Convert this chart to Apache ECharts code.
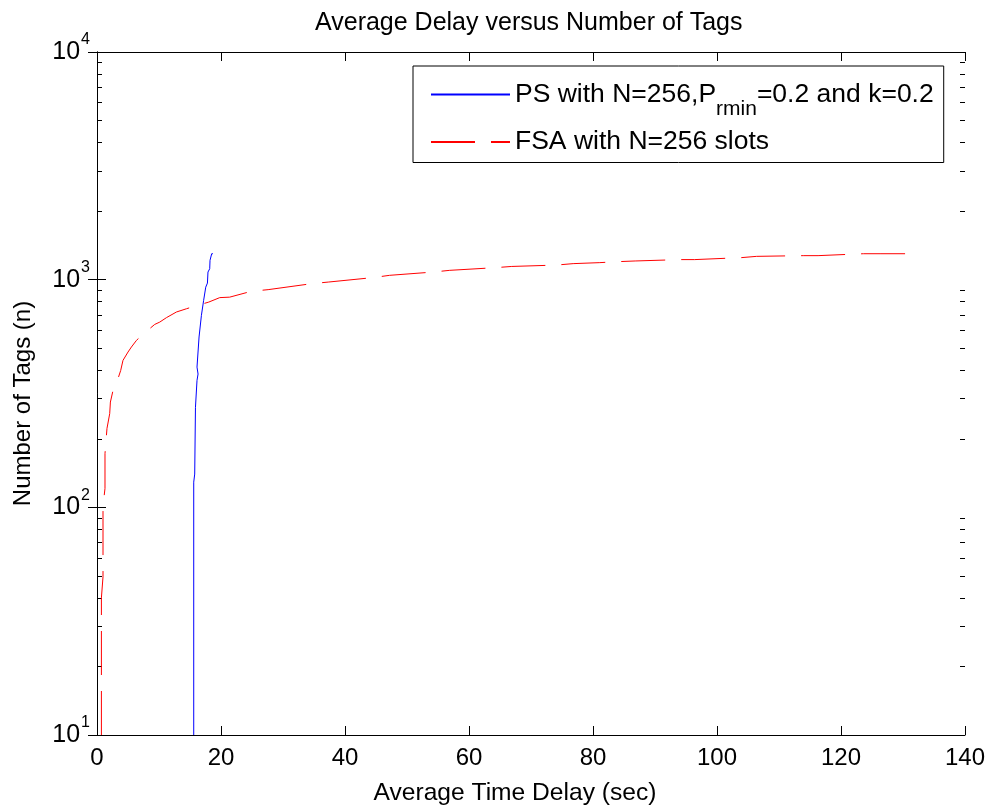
<!DOCTYPE html>
<html>
<head>
<meta charset="utf-8">
<script src="https://cdn.jsdelivr.net/npm/echarts@6/dist/echarts.min.js"></script>
<style>
  html, body { margin: 0; padding: 0; background: #fff; }
  #chart { width: 992px; height: 805px; }
</style>
</head>
<body>
<div id="chart"></div>
<script>
// ---- data ----
var titleText = 'Average Delay versus Number of Tags';
var xName = 'Average Time Delay (sec)';
var yName = 'Number of Tags (n)';
var xTicks = [0, 20, 40, 60, 80, 100, 120, 140];
var yDecades = [10, 100, 1000, 10000];
var yMinor = [20, 30, 40, 50, 60, 70, 80, 90, 200, 300, 400, 500, 600, 700, 800, 900, 2000, 3000, 4000, 5000, 6000, 7000, 8000, 9000];

var psName = 'PS with N=256,Prmin=0.2 and k=0.2';
var psX = [15.6, 15.6, 15.76, 15.88, 16.13, 16.13, 16.3, 16.13, 16.46, 16.73, 16.84, 17.1, 17.2, 17.49, 17.54, 17.81, 17.9, 18.18, 18.23, 18.5, 18.7];
var psY = [10, 129, 140, 275, 280, 361, 385, 413, 560, 569, 697, 703, 811, 825, 927, 966, 1080, 1117, 1216, 1300, 1300];

var fsaName = 'FSA with N=256 slots';
var fsaX = [0.71, 0.71, 0.97, 0.97, 1.29, 1.29, 1.61, 2.05, 2.16, 2.42, 2.58, 3.02, 3.82, 4.19, 5.0, 5.55, 6.36, 7.33, 9.31, 10.12, 11.2, 12.81, 14.42, 15.65, 18.02, 19.8, 21.4, 24.9, 27.6, 34.6, 37.3, 44.5, 47.2, 54.2, 56.9, 64.2, 66.9, 74.1, 76.8, 81.1, 84.1, 86.8, 94.0, 96.4, 104.0, 106.4, 113.9, 116.3, 123.6, 126.3, 131.9];
var fsaY = [10, 40, 49.5, 101.6, 121, 172, 222, 258, 290, 295, 326, 343, 399, 442, 481, 506, 541, 573, 636, 651, 681, 721, 745, 763, 797, 834, 838, 889, 904, 960, 976, 1021, 1045, 1080, 1099, 1129, 1143, 1159, 1176, 1188, 1200, 1208, 1225, 1225, 1250, 1266, 1275, 1275, 1300, 1300, 1300];

function zip(xs, ys) { return xs.map(function (x, i) { return [x, ys[i]]; }); }

var FONT = 'Liberation Sans, Arial, Helvetica, sans-serif';
var chart = echarts.init(document.getElementById('chart'), null, { renderer: 'canvas' });

function decadeLabel(v) {
  var e = Math.round(Math.log10(v));
  return '{b|10}{s|' + e + '}';
}
var yRich = {
  b: { fontSize: 25, lineHeight: 25, fontFamily: FONT, color: '#000', verticalAlign: 'middle' },
  s: { fontSize: 16, height: 16, fontFamily: FONT, color: '#000', verticalAlign: 'top', padding: [0, 0, 24, 1] }
};

var baseAxisLine = { show: true, lineStyle: { color: '#000', width: 1 } };

var option = {
  backgroundColor: '#fff',
  animation: false,
  title: {
    text: titleText,
    left: 310, top: 6,
    textStyle: { fontFamily: FONT, fontSize: 25, fontWeight: 'normal', color: '#000' }
  },
  grid: { left: 97, right: 27, top: 52, bottom: 70, containLabel: false, outerBoundsMode: 'none' },
  legend: {
    orient: 'vertical',
    left: 413, top: 66,
    itemWidth: 79, itemHeight: 12, itemGap: 9,
    padding: [15, 10, 7, 17],
    borderColor: '#000', borderWidth: 1, borderRadius: 0,
    backgroundColor: '#fff',
    selectedMode: false,
    itemStyle: { opacity: 0 },
    data: [psName, fsaName],
    formatter: function (name) {
      if (name === psName) {
        return '{t|PS with N=256,P}{sub|rmin}{t|=0.2 and k=0.2}';
      }
      return '{t|' + name + '}';
    },
    textStyle: {
      fontFamily: FONT, fontSize: 26.5, color: '#000',
      rich: {
        t: { fontFamily: FONT, fontSize: 26.5, lineHeight: 27, color: '#000', verticalAlign: 'middle' },
        sub: { fontFamily: FONT, fontSize: 21, height: 20, color: '#000', verticalAlign: 'bottom', padding: [29, 0, 0, 0] }
      }
    }
  },
  xAxis: [
    {
      type: 'value', position: 'bottom', min: 0, max: 140, interval: 20,
      name: xName, nameLocation: 'middle', nameGap: 46,
      nameTextStyle: { fontFamily: FONT, fontSize: 24.6, color: '#000', padding: [0, 32, 0, 0] },
      axisLine: baseAxisLine,
      axisTick: { show: true, inside: true, length: 9, lineStyle: { color: '#000' } },
      axisLabel: { show: true, margin: 11, fontFamily: FONT, fontSize: 24, color: '#000',
        customValues: xTicks },
      splitLine: { show: false }
    },
    {
      type: 'value', position: 'top', min: 0, max: 140, interval: 20,
      axisLine: baseAxisLine,
      axisTick: { show: true, inside: true, length: 9, lineStyle: { color: '#000' } },
      axisLabel: { show: false },
      splitLine: { show: false }
    }
  ],
  yAxis: [
    {
      type: 'log', logBase: 10, position: 'left', offset: 0, min: 10, max: 10000,
      name: yName, nameLocation: 'middle', nameGap: 62,
      nameTextStyle: { fontFamily: FONT, fontSize: 24, color: '#000', padding: [0, 20, 0, 0] },
      axisLine: baseAxisLine,
      axisTick: { show: true, inside: true, length: 9, lineStyle: { color: '#000' }, customValues: yDecades },
      axisLabel: { show: true, margin: 7, formatter: decadeLabel, rich: yRich, customValues: yDecades },
      splitLine: { show: false },
      minorTick: { show: false }
    },
    {
      type: 'log', logBase: 10, position: 'right', offset: 0, min: 10, max: 10000,
      axisLine: baseAxisLine,
      axisTick: { show: true, inside: true, length: 9, lineStyle: { color: '#000' }, customValues: yDecades },
      axisLabel: { show: false },
      splitLine: { show: false }
    },
    {
      type: 'log', logBase: 10, position: 'right', offset: 0, min: 10, max: 10000,
      axisLine: { show: false },
      axisTick: { show: true, inside: true, length: 5, lineStyle: { color: '#000' }, customValues: yMinor },
      axisLabel: { show: false },
      splitLine: { show: false }
    },
    {
      type: 'log', logBase: 10, position: 'left', offset: 0, min: 10, max: 10000,
      axisLine: { show: false },
      axisTick: { show: true, inside: true, length: 5, lineStyle: { color: '#000' }, customValues: yMinor },
      axisLabel: { show: false },
      splitLine: { show: false }
    }
  ],
  series: [
    {
      name: psName, type: 'line', xAxisIndex: 0, yAxisIndex: 0,
      data: zip(psX, psY), symbol: 'none', showSymbol: false,
      lineStyle: { color: '#0000ff', width: 1 }, itemStyle: { color: '#0000ff' },
      clip: true, z: 3
    },
    {
      name: fsaName, type: 'line', xAxisIndex: 0, yAxisIndex: 0,
      data: zip(fsaX, fsaY), symbol: 'none', showSymbol: false,
      lineStyle: { color: '#ff0000', width: 1, type: [44, 16] }, itemStyle: { color: '#ff0000' },
      clip: true, z: 2
    }
  ]
};
chart.setOption(option);
</script>
</body>
</html>
